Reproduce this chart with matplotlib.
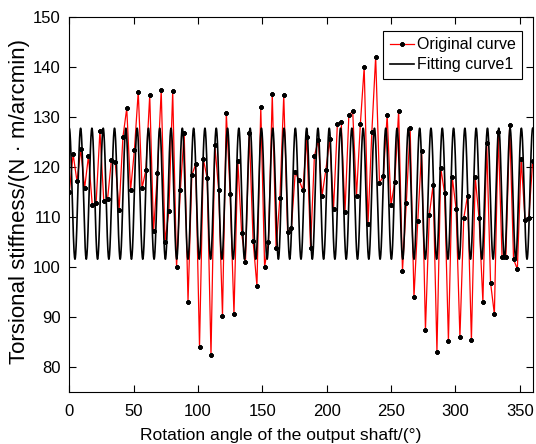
import numpy as np
import matplotlib
matplotlib.use('Agg')
import matplotlib.pyplot as plt

plt.rcParams['font.family'] = ['Liberation Sans', 'DejaVu Sans']

# --- measured torsional stiffness over one output shaft revolution ---
angle_start = 0
angle_end = 360
stiffness = [
    114.9, 122.5, 117.1, 123.5, 115.7, 122.1, 112.3, 112.7, 127.2, 113.1,
    113.6, 121.4, 120.9, 111.3, 125.9, 131.7, 115.3, 123.3, 135.0, 115.7,
    119.4, 134.3, 107.1, 118.7, 135.3, 105.0, 111.1, 135.1, 99.9, 115.4,
    126.7, 93.0, 118.3, 120.5, 83.9, 121.5, 117.7, 82.3, 124.3, 115.4,
    90.2, 130.7, 114.5, 90.5, 121.2, 106.7, 101.0, 126.8, 105.1, 96.1,
    131.9, 99.9, 105.0, 134.5, 103.8, 113.8, 134.3, 107.0, 107.8, 118.9,
    117.3, 115.3, 125.9, 103.8, 122.1, 125.3, 114.2, 119.4, 125.5, 111.6,
    128.5, 128.9, 111.0, 130.3, 131.1, 114.2, 128.5, 139.9, 108.5, 126.9,
    142.0, 116.7, 118.2, 130.3, 112.3, 117.0, 131.2, 99.2, 112.7, 127.8,
    93.9, 109.2, 123.2, 87.3, 110.3, 116.4, 83.0, 119.7, 114.7, 85.1,
    117.9, 111.6, 85.9, 109.7, 114.2, 85.3, 117.9, 109.7, 92.9, 124.7,
    96.8, 90.5, 126.9, 102.0, 102.0, 128.3, 101.5, 99.5, 121.5, 109.4,
    109.7, 121.2,
]
angle = np.linspace(angle_start, angle_end, len(stiffness))

# --- fitted model: single harmonic ---
fit_mean = 114.6
fit_amp = 13.1
fit_cycles = 41  # periods per revolution
x_fit = np.linspace(angle_start, angle_end, 4000)
y_fit = fit_mean + fit_amp * np.cos(2 * np.pi * fit_cycles * x_fit / 360.0)

fig = plt.figure(figsize=(5.36, 4.44), dpi=100)
ax = fig.add_axes([0.1293, 0.1178, 0.9938 - 0.1293, 0.9624 - 0.1178])

ax.plot(angle, stiffness, color='red', lw=0.9, marker=(8, 2, 0), ms=3.2,
        mec='black', mfc='black', mew=1.0, label='Original curve')
ax.plot(x_fit, y_fit, color='black', lw=1.2, label='Fitting curve1')

ax.set_xlim(0, 360)
ax.set_ylim(75, 150)
ax.set_xticks(np.arange(0, 351, 50))
ax.set_yticks(np.arange(80, 151, 10))
ax.tick_params(direction='in', top=True, right=True, length=5, width=0.8,
               labelsize=12)
ax.tick_params(axis='x', pad=9)
ax.tick_params(axis='y', pad=6)
for s in ax.spines.values():
    s.set_linewidth(0.8)

ax.set_xlabel('Rotation angle of the output shaft/(°)', fontsize=12.6)
ax.xaxis.set_label_coords(0.456, -0.097)
ax.set_ylabel('Torsional stiffness/(N · m/arcmin)', fontsize=16)
ax.yaxis.set_label_coords(-0.084, 0.508)

leg = ax.legend(loc='upper right', bbox_to_anchor=(0.977, 0.962),
                borderaxespad=0, fontsize=11.5, fancybox=False, framealpha=1,
                edgecolor='black', handlelength=1.5, borderpad=0.4,
                labelspacing=0.3, handletextpad=0.2)
leg.get_frame().set_linewidth(0.8)

fig.savefig('out.png', dpi=100)
